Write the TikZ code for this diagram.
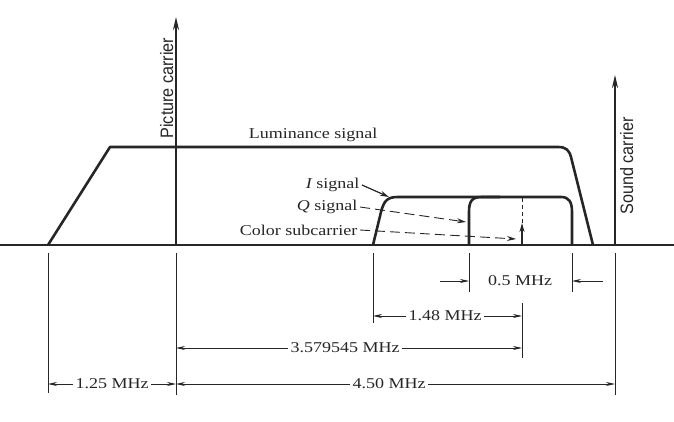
\documentclass[tikz,border=0pt]{standalone}
\usepackage{fontspec}
\setmainfont{Liberation Serif}[FakeStretch=1.2]
\newfontfamily\carrierfont{Liberation Sans}[FakeStretch=0.9]
\usetikzlibrary{arrows.meta, calc}

\begin{document}
\begin{tikzpicture}[
    x=1pt, y=-1pt,
    every node/.style={font=\fontsize{15}{17}\selectfont, text=black!85, inner sep=2.5pt},
    axisline/.style={line width=1.6pt, black!85},
    sig/.style={line width=2.6pt, black!85, line join=round},
    carrier/.style={-{Stealth[length=13pt,width=6pt]}, line width=2pt, black!85},
    subc/.style={-{Stealth[length=9pt,width=5pt]}, line width=1.6pt, black!85},
    ext/.style={line width=0.8pt, black!85},
    dim/.style={-{Stealth[length=9pt,width=4pt]}, line width=0.8pt, black!85},
    ptr/.style={-{Stealth[length=9pt,width=5pt]}, line width=1.2pt, black!85},
    dptr/.style={ptr, line width=0.9pt, dash pattern=on 10pt off 5pt},
    carlbl/.style={font=\carrierfont\fontsize{18}{20}\selectfont, rotate=90, anchor=base, inner sep=0pt}
]
\useasboundingbox (0,0) rectangle (674,422);

% ===== Frecuencias sobre el eje =====
\coordinate (west) at (0,245);
\coordinate (east) at (674,245);
\coordinate (vl) at (48,245);
\coordinate (pc) at (176,245);
\coordinate (il) at (373,245);
\coordinate (ql) at (469,245);
\coordinate (cs) at (522,245);
\coordinate (ih) at (572,245);
\coordinate (lh) at (593,245);
\coordinate (sc) at (615,245);

\draw[axisline] (west) -- (east);

% ===== Espectro =====
\draw[sig] (vl) -- (110,147) -- (558,147) .. controls (566,147) and (569,150) .. (571,157) -- (lh);
\draw[sig] (il) -- (381,212) .. controls (384,200) and (388,197) .. (398,197) -- (561,197)
    .. controls (569,197) and (572,202) .. (572,212) -- (ih);
\draw[sig] (ql) -- (469,212) .. controls (469,201) and (472,197) .. (482,197) -- (500,197);

% ===== Portadoras =====
\coordinate (pctip) at (176,17);
\coordinate (sctip) at (615,75);
\coordinate (cstip) at (522,223);
\coordinate (cstop) at (522,197);
\draw[carrier] (pc) -- (pctip);
\draw[carrier] (sc) -- (sctip);
\draw[subc] (cs) -- (cstip);
\draw[ext, dash pattern=on 4pt off 3pt] (cstip) -- (cstop);

\node[carlbl] (pclbl) at (173,88) {Picture carrier};
\node[carlbl] (sclbl) at (633,166) {Sound carrier};

% ===== Etiquetas de las señales =====
\node[anchor=base] (lum) at (313,139) {Luminance signal};
\node[anchor=east] (ilbl) at (362,185) {{\itshape I} signal};
\node[anchor=east] (qlbl) at (360,207) {{\itshape Q} signal};
\node[anchor=east] (cslbl) at (360,230) {Color subcarrier};

\coordinate (icorner) at (389,197);
\coordinate (qedge) at (466,222);
\coordinate (csleft) at (516,239);
\draw[ptr] (ilbl.east) -- (icorner);
\draw[dptr] (qlbl.east) -- (qedge);
\draw[dptr] (cslbl.east) -- (csleft);

% ===== Líneas de referencia =====
\draw[ext] (48,253) -- (48,393);
\draw[ext] (176,253) -- (176,395);
\draw[ext] (373,253) -- (373,323);
\draw[ext] (469,253) -- (469,292);
\draw[ext] (572,253) -- (572,292);
\draw[ext] (522,303) -- (522,358);
\draw[ext] (615,253) -- (615,395);

% ===== Cotas =====
\node (d05) at (520,281) {0.5 MHz};
\coordinate (d05l) at (440,281);
\coordinate (d05r) at (603,281);
\draw[dim] (d05l) -- (d05l -| ql);
\draw[dim] (d05r) -- (d05r -| ih);

\node (d148) at (445,316) {1.48 MHz};
\draw[dim] (d148.west) -- (d148.west -| il);
\draw[dim] (d148.east) -- (d148.east -| cs);

\node (d358) at (345,348) {3.579545 MHz};
\draw[dim] (d358.west) -- (d358.west -| pc);
\draw[dim] (d358.east) -- (d358.east -| cs);

\node (d125) at (112,384) {1.25 MHz};
\draw[dim] (d125.west) -- (d125.west -| vl);
\draw[dim] (d125.east) -- (d125.east -| pc);

\node (d450) at (389,384) {4.50 MHz};
\draw[dim] (d450.west) -- (d450.west -| pc);
\draw[dim] (d450.east) -- (d450.east -| sc);

\end{tikzpicture}
\end{document}
